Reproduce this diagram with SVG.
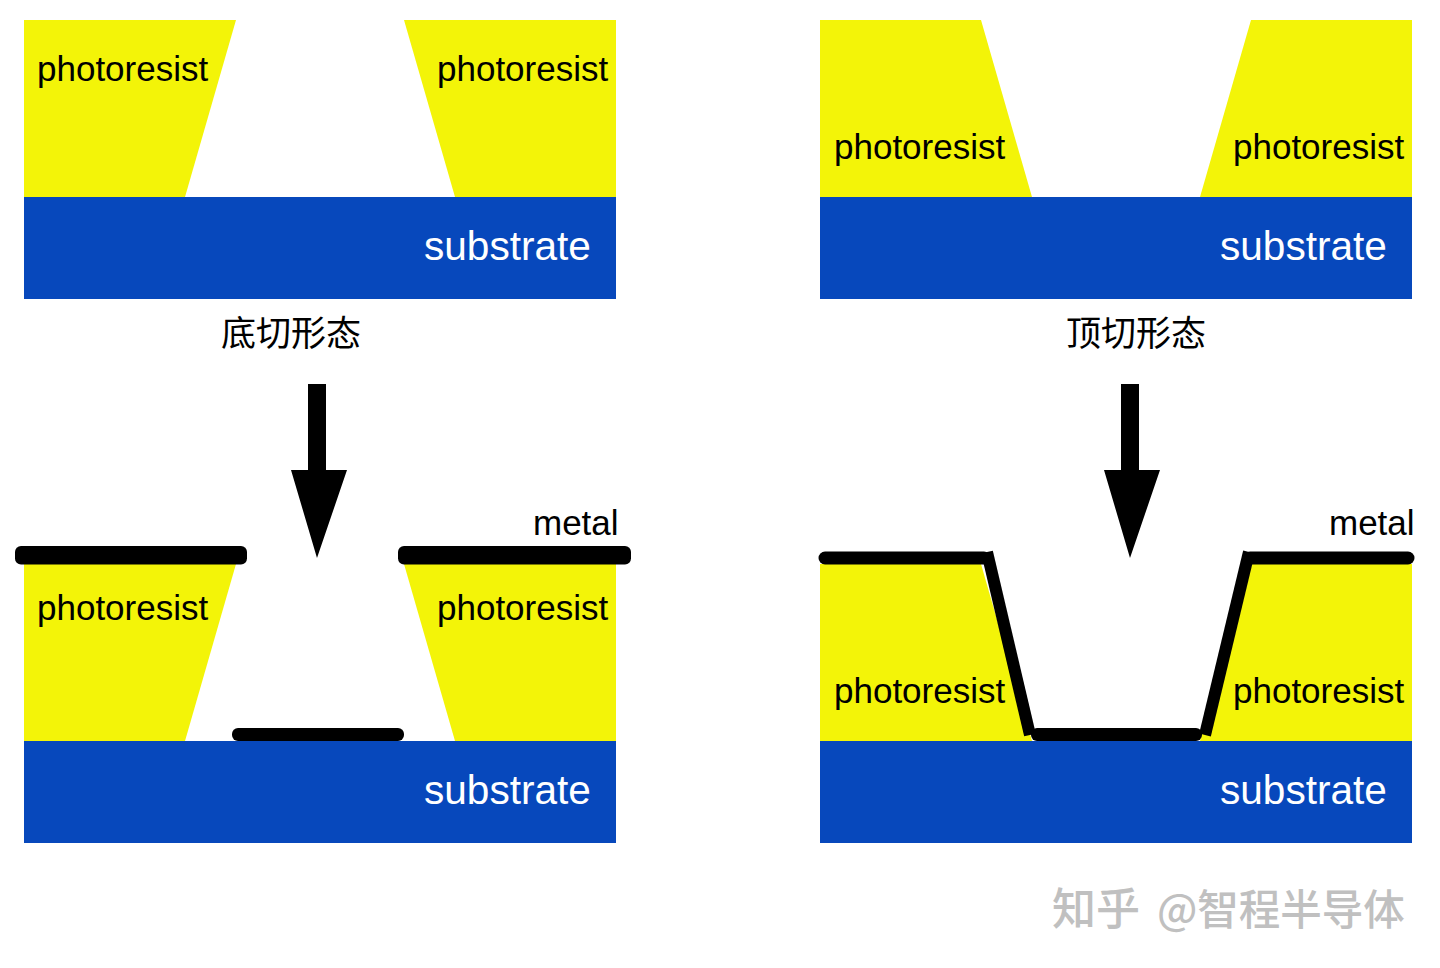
<svg xmlns="http://www.w3.org/2000/svg" width="1440" height="968" viewBox="0 0 1440 968">
<style>
.y{fill:#f3f408}
.b{fill:#0748bc}
text{font-family:"Liberation Sans","Noto Sans CJK SC",sans-serif}
.p{font-size:35px;fill:#000}
.s{font-size:40.600px;fill:#fff}
.m{font-size:35px;fill:#000}
.c{font-size:35px;fill:#000;font-family:"Noto Sans CJK SC",sans-serif}
.w{font-size:44px;fill:#c0c0c0;font-family:"Noto Sans CJK SC",sans-serif;font-weight:500}
.k{fill:#000}
.l{fill:none;stroke:#000;stroke-linecap:round;stroke-linejoin:round}
</style>
<rect width="1440" height="968" fill="#fff"/>
<g id="undercut-top">
<polygon class="y" points="24,20 236,20 185,197 24,197"/>
<polygon class="y" points="404,20 616,20 616,197 455,197"/>
<rect class="b" x="24" y="197" width="592" height="102"/>
<text class="p" x="37" y="81">photoresist</text>
<text class="p" x="437" y="81">photoresist</text>
<text class="s" x="424" y="260">substrate</text>
</g>
<g id="overcut-top">
<polygon class="y" points="820,20 981,20 1032,197 820,197"/>
<polygon class="y" points="1251,20 1412,20 1412,197 1200,197"/>
<rect class="b" x="820" y="197" width="592" height="102"/>
<text class="p" x="834" y="159">photoresist</text>
<text class="p" x="1233" y="159">photoresist</text>
<text class="s" x="1220" y="260">substrate</text>
</g>
<text class="c" x="221" y="346">底切形态</text>
<text class="c" x="1066" y="346">顶切形态</text>
<g id="arrows">
<polygon class="k" points="308,384 326,384 326,470 347,470 317,558 291,470 308,470"/>
<polygon class="k" points="1121,384 1139,384 1139,470 1160,470 1130,558 1104,470 1121,470"/>
</g>
<g id="undercut-bottom">
<polygon class="y" points="24,564 236,564 185,741 24,741"/>
<polygon class="y" points="404,564 616,564 616,741 455,741"/>
<rect class="b" x="24" y="741" width="592" height="102"/>
<rect class="k" x="15" y="546" width="232" height="18.500" rx="6"/>
<rect class="k" x="398" y="546" width="233" height="18.500" rx="6"/>
<rect class="k" x="232" y="728" width="172" height="13" rx="6"/>
<text class="p" x="37" y="620">photoresist</text>
<text class="p" x="437" y="620">photoresist</text>
<text class="s" x="424" y="804">substrate</text>
<text class="m" x="533" y="535">metal</text>
</g>
<g id="overcut-bottom">
<polygon class="y" points="820,564 981,564 1032,741 820,741"/>
<polygon class="y" points="1251,564 1412,564 1412,741 1200,741"/>
<rect class="b" x="820" y="741" width="592" height="102"/>
<text class="p" x="834" y="703">photoresist</text>
<text class="p" x="1233" y="703">photoresist</text>
<text class="s" x="1220" y="804">substrate</text>
<text class="m" x="1329" y="535">metal</text>
<path class="l" d="M825,558 H984" stroke-width="13"/>
<path class="l" d="M1250,558 H1408" stroke-width="13"/>
<path d="M987,552 L1030,735" fill="none" stroke="#000" stroke-width="12"/>
<path d="M1249,552 L1205,735" fill="none" stroke="#000" stroke-width="12"/>
<rect class="k" x="1031" y="728" width="171" height="13" rx="6"/>
</g>
<text class="w" x="1052" y="925">知乎<tspan x="1157" font-size="41.500">@智程半导体</tspan></text>
</svg>
